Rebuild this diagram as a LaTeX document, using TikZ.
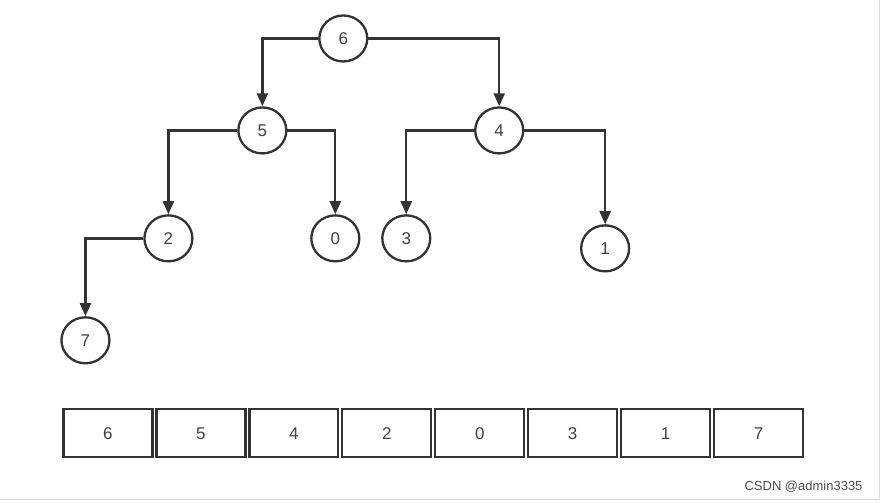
\documentclass[tikz,border=0pt]{standalone}
\usepackage{fontspec}
\setmainfont{Liberation Sans}
\usetikzlibrary{shapes.geometric,arrows.meta}
\begin{document}
\begin{tikzpicture}[x=1pt,y=-1pt,
  nd/.style={ellipse,draw=black!80,line width=2.3pt,minimum width=48pt,minimum height=46pt,inner sep=0pt,font=\fontsize{17}{17}\selectfont,text=black!75},
  cell/.style={rectangle,draw=black!80,line width=2.3pt,minimum width=89pt,minimum height=48pt,inner sep=0pt,font=\fontsize{17}{17}\selectfont,text=black!75},
  ar/.style={draw=black!80,line width=2.3pt,-{Triangle[length=13pt,width=11pt]}}]
\fill[white] (0,0) rectangle (881,502);
\draw[black!15,line width=1pt] (0,499) -- (879,499) -- (879,0);
\node[nd] (n6) at (343,38) {6};
\node[nd] (n5) at (262,130) {5};
\node[nd] (n4) at (499,130) {4};
\node[nd] (n2) at (168,238) {2};
\node[nd] (n0) at (335,238) {0};
\node[nd] (n3) at (406,238) {3};
\node[nd] (n1) at (605,248) {1};
\node[nd] (n7) at (85,340) {7};
\draw[ar] (n6.west) -| (n5);
\draw[ar] (n6.east) -| (n4);
\draw[ar] (n5.west) -| (n2);
\draw[ar] (n5.east) -| (n0);
\draw[ar] (n4.west) -| (n3);
\draw[ar] (n4.east) -| (n1);
\draw[ar] (n2.west) -| (n7);
\foreach \v [count=\i] in {6,5,4,2,0,3,1,7}
  \node[cell] (c\i) at ({107.5+(\i-1)*93},433) {\v};
\node[anchor=east,font=\fontsize{13}{13}\selectfont,text=black!70] (wm) at (866,486) {CSDN @admin3335};
\end{tikzpicture}
\end{document}
